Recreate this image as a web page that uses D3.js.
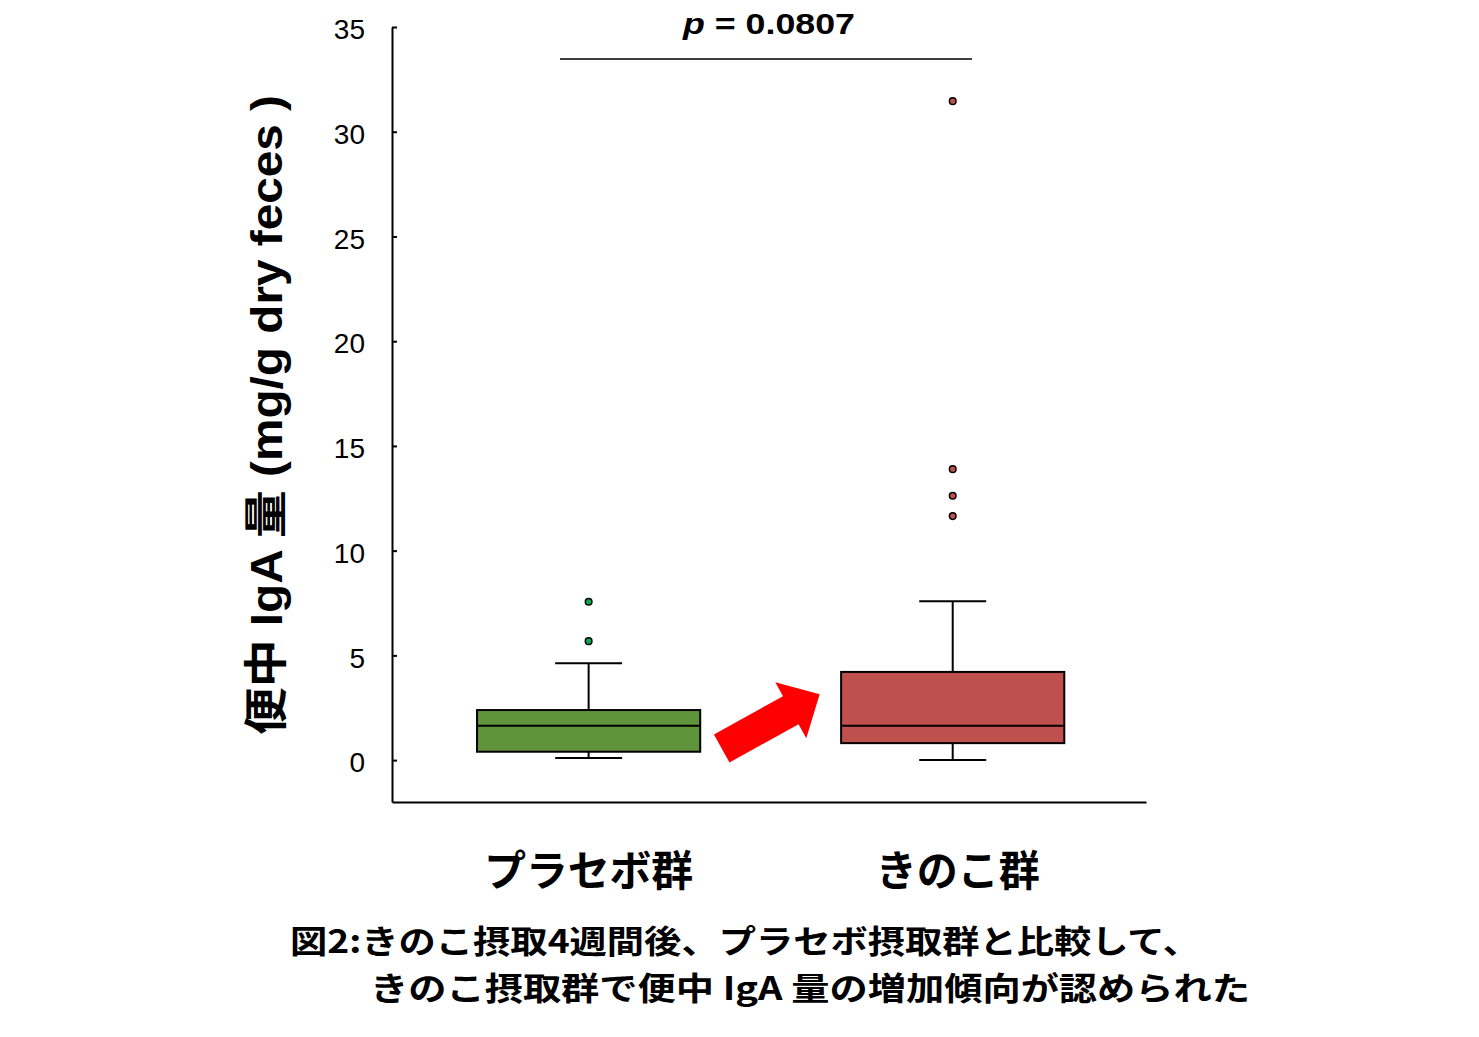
<!DOCTYPE html>
<html>
<head>
<meta charset="utf-8">
<script src="https://cdn.jsdelivr.net/npm/d3@7"></script>
<style>
  html, body { margin: 0; padding: 0; background: #fff; }
  svg { display: block; }
</style>
</head>
<body>
<svg id="chart" width="1479" height="1037"></svg>
<script>
// ---- data ----
const categories = ["プラセボ群", "きのこ群"];
const q1Values = [0.40, 0.81];
const medianValues = [1.64, 1.64];
const q3Values = [2.39, 4.21];
const whiskerLow = [0.10, 0.01];
const whiskerHigh = [4.63, 7.59];
const outliersPlacebo = [7.56, 5.68];
const outliersKinoko = [31.46, 13.89, 12.62, 11.65];
const yTicks = [0, 5, 10, 15, 20, 25, 30, 35];
const pLabel = "= 0.0807";
const yLabel = "便中 IgA 量 (mg/g dry feces )";
const caption1 = "図2:きのこ摂取4週間後、プラセボ摂取群と比較して、";
const caption2 = "きのこ摂取群で便中 IgA 量の増加傾向が認められた";

const boxFill = ["#5f933c", "#c0504d"];
const outlierFill = ["#00b050", "#c0504d"];
const outlierSets = [outliersPlacebo, outliersKinoko];

// ---- layout ----
const svg = d3.select("#chart");
const x0 = 392, x1 = 1146, yTop = 27, yBot = 802;

const y = d3.scaleLinear().domain([-2, 35]).range([yBot, yTop]);
const x = d3.scaleBand().domain(categories).range([x0, x1])
  .paddingInner(0.387).paddingOuter(0.229).align(0.51);

const latin = "'Liberation Sans', Arial, sans-serif";
const cjk = "'Noto Sans CJK JP', 'Noto Sans CJK SC', sans-serif";

// y axis
const yAxis = d3.axisLeft(y).tickValues(yTicks).tickSizeInner(-5).tickSizeOuter(0).tickPadding(27);
const gy = svg.append("g").attr("transform", `translate(${x0},0)`).call(yAxis);
gy.select(".domain").attr("stroke", "#000").attr("stroke-width", 2);
gy.selectAll(".tick line").attr("stroke", "#000").attr("stroke-width", 2);
gy.selectAll(".tick text").attr("font-family", latin).attr("font-size", 28).attr("fill", "#000")
  .attr("dy", "0.42em");

// x axis line
const xAxis = d3.axisBottom(x).tickSize(0).tickFormat("");
const gx = svg.append("g").attr("transform", `translate(0,${yBot})`).call(xAxis);
gx.select(".domain").attr("stroke", "#000").attr("stroke-width", 2);

// category labels
svg.append("g").selectAll("text").data(categories).join("text")
  .attr("x", d => x(d) + x.bandwidth() / 2 + (d === categories[1] ? 5 : 0))
  .attr("y", 886)
  .attr("text-anchor", "middle")
  .attr("font-family", cjk).attr("font-weight", "bold").attr("font-size", 42)
  .attr("textLength", (d, i) => i === 0 ? 209 : 164)
  .attr("lengthAdjust", "spacingAndGlyphs")
  .text(d => d);

// boxes
const capHalf = x.bandwidth() * 0.15;
categories.forEach((c, i) => {
  const cx = x(c) + x.bandwidth() / 2;
  const g = svg.append("g");
  // whiskers
  g.append("line").attr("x1", cx).attr("x2", cx).attr("y1", y(q3Values[i])).attr("y2", y(whiskerHigh[i]))
    .attr("stroke", "#000").attr("stroke-width", 2);
  g.append("line").attr("x1", cx).attr("x2", cx).attr("y1", y(q1Values[i])).attr("y2", y(whiskerLow[i]))
    .attr("stroke", "#000").attr("stroke-width", 2);
  g.append("line").attr("x1", cx - capHalf).attr("x2", cx + capHalf).attr("y1", y(whiskerHigh[i])).attr("y2", y(whiskerHigh[i]))
    .attr("stroke", "#000").attr("stroke-width", 2);
  g.append("line").attr("x1", cx - capHalf).attr("x2", cx + capHalf).attr("y1", y(whiskerLow[i])).attr("y2", y(whiskerLow[i]))
    .attr("stroke", "#000").attr("stroke-width", 2);
  // box
  g.append("rect").attr("x", x(c)).attr("width", x.bandwidth())
    .attr("y", y(q3Values[i])).attr("height", y(q1Values[i]) - y(q3Values[i]))
    .attr("fill", boxFill[i]).attr("stroke", "#000").attr("stroke-width", 2);
  g.append("line").attr("x1", x(c)).attr("x2", x(c) + x.bandwidth())
    .attr("y1", y(medianValues[i])).attr("y2", y(medianValues[i]))
    .attr("stroke", "#000").attr("stroke-width", 2);
  // outliers
  g.selectAll("circle").data(outlierSets[i]).join("circle")
    .attr("cx", cx).attr("cy", d => y(d)).attr("r", 3.3)
    .attr("fill", outlierFill[i]).attr("stroke", "#000").attr("stroke-width", 1.5);
});

// significance line and p-value
const pLineY = 59;
svg.append("line").attr("x1", 560).attr("x2", 972).attr("y1", pLineY).attr("y2", pLineY)
  .attr("stroke", "#000").attr("stroke-width", 1.5);
const pt = svg.append("text").attr("x", 769).attr("y", 34).attr("text-anchor", "middle")
  .attr("font-family", latin).attr("font-weight", "bold").attr("font-size", 30)
  .attr("textLength", 172).attr("lengthAdjust", "spacingAndGlyphs");
pt.append("tspan").attr("font-style", "italic").text("p");
pt.append("tspan").text(" " + pLabel);

// arrow (annotation) between the boxes
const ax = (x(categories[0]) + x.bandwidth() + x(categories[1])) / 2;
const ay = y(1.85);
const arrowPts = [[-56, -16], [23, -16], [23, -32], [56, 0], [23, 32], [23, 16], [-56, 16]];
svg.append("polygon")
  .attr("points", arrowPts.map(p => p.join(",")).join(" "))
  .attr("transform", `translate(${ax},${ay}) rotate(-29)`)
  .attr("fill", "#ff0000");

// y label
svg.append("text")
  .attr("transform", `translate(282,415) rotate(-90)`)
  .attr("text-anchor", "middle")
  .attr("font-family", latin + ", " + cjk).attr("font-weight", "bold").attr("font-size", 44)
  .attr("textLength", 640).attr("lengthAdjust", "spacingAndGlyphs")
  .text(yLabel);

// caption
svg.append("text").attr("x", 290).attr("y", 953)
  .attr("font-family", cjk).attr("font-weight", "bold").attr("font-size", 32)
  .attr("textLength", 910).attr("lengthAdjust", "spacingAndGlyphs")
  .text(caption1);
svg.append("text").attr("x", 370).attr("y", 1000)
  .attr("font-family", cjk).attr("font-weight", "bold").attr("font-size", 32)
  .attr("textLength", 880).attr("lengthAdjust", "spacingAndGlyphs")
  .text(caption2);
</script>
</body>
</html>
